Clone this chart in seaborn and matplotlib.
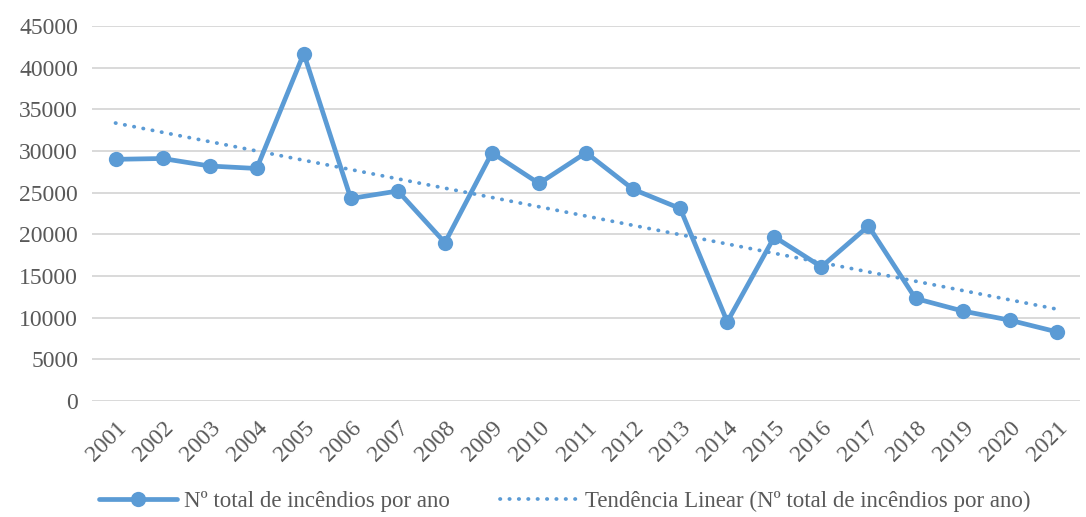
import matplotlib
matplotlib.use("Agg")
import matplotlib.pyplot as plt
import numpy as np
import pandas as pd
import seaborn as sns

years = list(range(2001, 2022))
incendios = [29000, 29100, 28200, 27900, 41700, 24300, 25200, 19000, 29800, 26100,
             29800, 25400, 23100, 9500, 19700, 16100, 21000, 12300, 10800, 9700, 8300]
yticks = list(range(0, 45001, 5000))

serie_label = "Nº total de incêndios por ano"
trend_label = "Tendência Linear (Nº total de incêndios por ano)"
blue = "#5B9BD5"
grey = "#595959"

sns.set_theme(style="white")
plt.rcParams['font.family'] = ['Liberation Serif', 'DejaVu Serif']

df = pd.DataFrame({"ano": years, "n": incendios})

# Excel-style linear trendline
coef = np.polyfit(df["ano"], df["n"], 1)
df["trend"] = np.polyval(coef, df["ano"])

fig = plt.figure(figsize=(10.86, 5.17), dpi=100)
ax = fig.add_axes([0.0847, 0.2244, 0.91, 0.7253])

for y in yticks:
    ax.axhline(y, color="#D9D9D9", lw=1.4, zorder=0)

sns.lineplot(data=df, x="ano", y="n", ax=ax, color=blue, lw=3.4, marker="o",
             markersize=11, markeredgewidth=0, label=serie_label, zorder=3)
sns.lineplot(data=df, x="ano", y="trend", ax=ax, color=blue, lw=2.7,
             linestyle=(0, (0.1, 2.4)), dash_capstyle="round", label=trend_label, zorder=2)

ax.set_xlim(2000.5, 2021.5)
ax.set_ylim(0, 45000)
ax.set_xticks(years)
ax.set_xticklabels([str(y) for y in years], rotation=45, ha="right", rotation_mode="anchor",
                   fontsize=17, color=grey)
ax.set_yticks(yticks)
ax.set_yticklabels([str(y) for y in yticks], fontsize=17, color=grey)
ax.tick_params(axis="y", length=0, pad=10)
ax.tick_params(axis="x", length=0, pad=12)
ax.set_xlabel("")
ax.set_ylabel("")
sns.despine(ax=ax, left=True, bottom=True)

ax.get_legend().remove()
handles, labels = ax.get_legend_handles_labels()
leg = fig.legend(handles, labels, loc="center", bbox_to_anchor=(0.52, 0.03), ncol=2,
                 frameon=False, fontsize=16.5, handlelength=3.4, columnspacing=2.2,
                 handletextpad=0.3, borderaxespad=0)
for t in leg.get_texts():
    t.set_color(grey)

fig.savefig("out.png", dpi=100)
